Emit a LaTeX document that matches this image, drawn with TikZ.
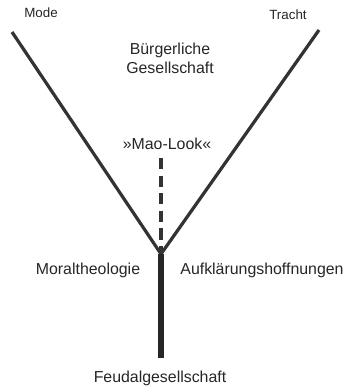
\documentclass[tikz,border=0pt]{standalone}
\usepackage{fontspec}
\setmainfont{Liberation Sans}
\usetikzlibrary{positioning}

\begin{document}
\begin{tikzpicture}[
    x=0.025cm, y=-0.025cm,
    label/.style={font=\fontsize{11.3}{13.5}\selectfont, align=center, text=black!85, inner sep=0pt},
    small/.style={font=\fontsize{9.5}{11}\selectfont, text=black!85, inner sep=0pt},
    branch/.style={line width=2.3pt, color=black!80},
    stem/.style={line width=3.6pt, color=black!85},
    trend/.style={line width=2.2pt, color=black!80, dash pattern=on 8pt off 4.5pt}
]
    \useasboundingbox (0,0) rectangle (353,390);

    % Verzweigungspunkte
    \coordinate (fork) at (161,254);
    \coordinate (root) at (161,358);
    \coordinate (modeend) at (12,32);
    \coordinate (trachtend) at (319,30);
    \coordinate (maoend) at (161,158);

    \node (mode) [small] at (41,13) {Mode};
    \node (tracht) [small] at (288,15) {Tracht};
    \node (buerger) [label] at (170,58) {Bürgerliche\\Gesellschaft};
    \node (mao) [label] at (167,144) {»Mao-Look«};
    \node (moral) [label] at (88,270) {Moraltheologie};
    \node (aufkl) [label] at (262,270) {Aufklärungshoffnungen};
    \node (feudal) [label] at (160,378) {Feudalgesellschaft};

    \draw[branch] (modeend) -- (fork) -- (trachtend);
    \draw[trend] (maoend) -- (fork);
    \draw[stem] (fork) -- (root);
\end{tikzpicture}
\end{document}
